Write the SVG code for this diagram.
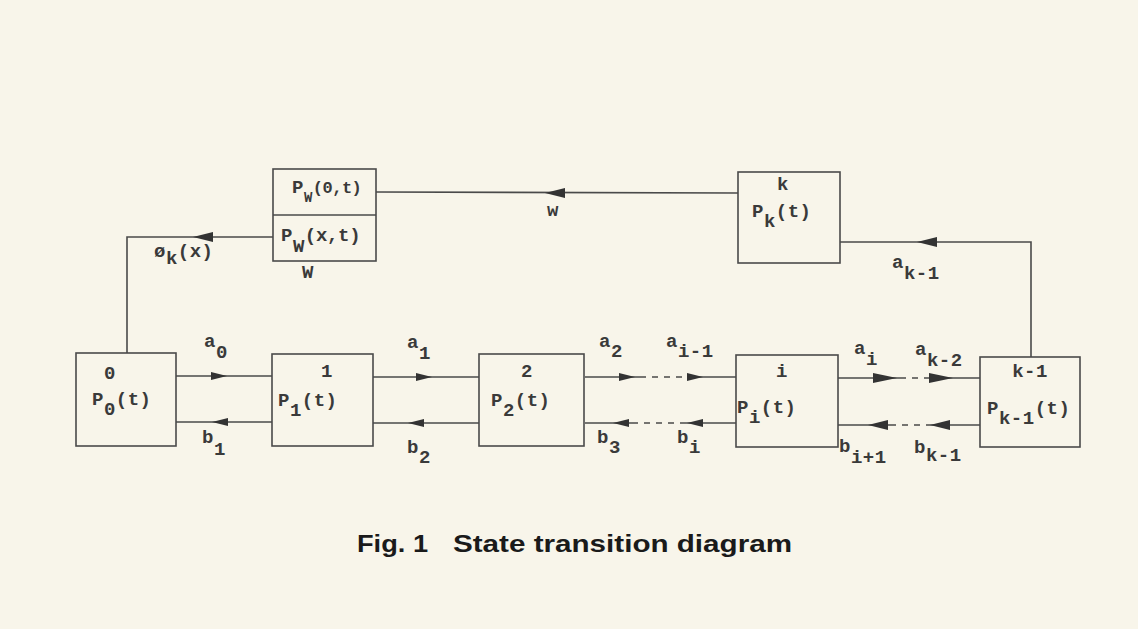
<svg xmlns="http://www.w3.org/2000/svg" xmlns:xlink="http://www.w3.org/1999/xlink" width="1138" height="629" viewBox="0 0 1138 629">
<style>
.box{fill:none;stroke:#4a4a4a;stroke-width:1.6}
.ln{fill:none;stroke:#4a4a4a;stroke-width:1.6}
.ds{fill:none;stroke:#4a4a4a;stroke-width:1.6;stroke-dasharray:6 6}
.ah{fill:#333}
.t{font-family:"Liberation Mono","Courier New",monospace;font-weight:bold;font-size:19px;letter-spacing:0.5px;fill:#3a3a3a}
.m{text-anchor:middle}
.cap{font-family:"Liberation Sans",Arial,sans-serif;font-weight:bold;font-size:24px;fill:#1a1a1a}
</style>
<defs>
<path id="ar" class="ah" d="M0,0 L-16,-4 L-16,4 Z"/>
<path id="al" class="ah" d="M0,0 L16,-4 L16,4 Z"/>
<path id="arB" class="ah" d="M0,0 L-24,-5 L-24,5 Z"/>
<path id="alB" class="ah" d="M0,0 L20,-5 L20,5 Z"/>
</defs>
<rect width="1138" height="629" fill="#f8f5ea"/>

<g id="connectors">
  <line class="ln" x1="176" y1="376" x2="272" y2="376"/><use xlink:href="#ar" x="227" y="376"/>
  <line class="ln" x1="176" y1="422" x2="272" y2="422"/><use xlink:href="#al" x="212" y="422"/>
  <line class="ln" x1="373" y1="377" x2="479" y2="377"/><use xlink:href="#ar" x="432" y="377"/>
  <line class="ln" x1="373" y1="423" x2="479" y2="423"/><use xlink:href="#al" x="408" y="423"/>

  <line class="ln" x1="585" y1="377" x2="640" y2="377"/>
  <line class="ds" x1="640" y1="377" x2="688" y2="377"/>
  <line class="ln" x1="688" y1="377" x2="736" y2="377"/>
  <use xlink:href="#ar" x="635" y="377"/><use xlink:href="#ar" x="703" y="377"/>
  <line class="ln" x1="585" y1="423" x2="632" y2="423"/>
  <line class="ds" x1="632" y1="423" x2="686" y2="423"/>
  <line class="ln" x1="686" y1="423" x2="736" y2="423"/>
  <use xlink:href="#al" x="613" y="423"/><use xlink:href="#al" x="687" y="423"/>

  <line class="ln" x1="838" y1="378" x2="900" y2="378"/>
  <line class="ds" x1="900" y1="378" x2="930" y2="378"/>
  <line class="ln" x1="930" y1="378" x2="980" y2="378"/>
  <use xlink:href="#arB" x="897" y="378"/><use xlink:href="#arB" x="953" y="378"/>
  <line class="ln" x1="838" y1="425" x2="890" y2="425"/>
  <line class="ds" x1="890" y1="425" x2="930" y2="425"/>
  <line class="ln" x1="930" y1="425" x2="980" y2="425"/>
  <use xlink:href="#alB" x="868" y="425"/><use xlink:href="#alB" x="930" y="425"/>

  <polyline class="ln" points="1031,357 1031,242 840,242"/><use xlink:href="#alB" x="917" y="242"/>
  <line class="ln" x1="738" y1="193" x2="376" y2="192"/><use xlink:href="#alB" x="545" y="193"/>
  <polyline class="ln" points="273,237 127,237 127,353"/><use xlink:href="#alB" x="193" y="237"/>

  <text class="t" x="204" y="347">a<tspan dy="11">0</tspan></text>
  <text class="t" x="202" y="443">b<tspan dy="12">1</tspan></text>
  <text class="t" x="407" y="348">a<tspan dy="11">1</tspan></text>
  <text class="t" x="407" y="453">b<tspan dy="10">2</tspan></text>
  <text class="t" x="599" y="347">a<tspan dy="10">2</tspan></text>
  <text class="t" x="666" y="347">a<tspan dy="10">i-1</tspan></text>
  <text class="t" x="597" y="443">b<tspan dy="10">3</tspan></text>
  <text class="t" x="677" y="443">b<tspan dy="10">i</tspan></text>
  <text class="t" x="854" y="354">a<tspan dy="11">i</tspan></text>
  <text class="t" x="915" y="355">a<tspan dy="11">k-2</tspan></text>
  <text class="t" x="839" y="452">b<tspan dy="11">i+1</tspan></text>
  <text class="t" x="914" y="453">b<tspan dy="8">k-1</tspan></text>
  <text class="t" x="892" y="268">a<tspan dy="11">k-1</tspan></text>
  <text class="t m" x="553" y="216">w</text>
  <text class="t" x="154" y="257">ø<tspan dy="7">k</tspan><tspan dy="-7">(x)</tspan></text>
</g>

<g id="node-W">
  <rect class="box" x="273" y="169" width="103" height="92"/>
  <line class="ln" x1="273" y1="215" x2="376" y2="215"/>
  <text class="t" x="292" y="193">P<tspan dy="9" font-size="14">W</tspan><tspan dy="-9" font-size="17" letter-spacing="-0.5">(0,t)</tspan></text>
  <text class="t" x="281" y="241">P<tspan dy="11">W</tspan><tspan dy="-11" letter-spacing="-0.3">(x,t)</tspan></text>
  <text class="t m" x="308" y="278">W</text>
</g>

<g id="node-k">
  <rect class="box" x="738" y="172" width="102" height="91"/>
  <text class="t m" x="783" y="190">k</text>
  <text class="t" x="752" y="217">P<tspan dy="10">k</tspan><tspan dy="-10">(t)</tspan></text>
</g>

<g id="node-0">
  <rect class="box" x="76" y="353" width="100" height="93"/>
  <text class="t m" x="110" y="379">0</text>
  <text class="t" x="92" y="405">P<tspan dy="10">0</tspan><tspan dy="-10">(t)</tspan></text>
</g>

<g id="node-1">
  <rect class="box" x="272" y="354" width="101" height="92"/>
  <text class="t m" x="327" y="377">1</text>
  <text class="t" x="278" y="406">P<tspan dy="10">1</tspan><tspan dy="-10">(t)</tspan></text>
</g>

<g id="node-2">
  <rect class="box" x="479" y="354" width="105" height="92"/>
  <text class="t m" x="527" y="377">2</text>
  <text class="t" x="491" y="406">P<tspan dy="10">2</tspan><tspan dy="-10">(t)</tspan></text>
</g>

<g id="node-i">
  <rect class="box" x="736" y="355" width="102" height="92"/>
  <text class="t m" x="782" y="377">i</text>
  <text class="t" x="737" y="413">P<tspan dy="10">i</tspan><tspan dy="-10">(t)</tspan></text>
</g>

<g id="node-k-1">
  <rect class="box" x="980" y="357" width="100" height="90"/>
  <text class="t m" x="1030" y="377">k-1</text>
  <text class="t" x="987" y="414">P<tspan dy="10">k-1</tspan><tspan dy="-10">(t)</tspan></text>
</g>

<text class="cap" x="357" y="552" textLength="71" lengthAdjust="spacingAndGlyphs">Fig. 1</text>
<text class="cap" x="453" y="552" textLength="339" lengthAdjust="spacingAndGlyphs">State transition diagram</text>
</svg>
